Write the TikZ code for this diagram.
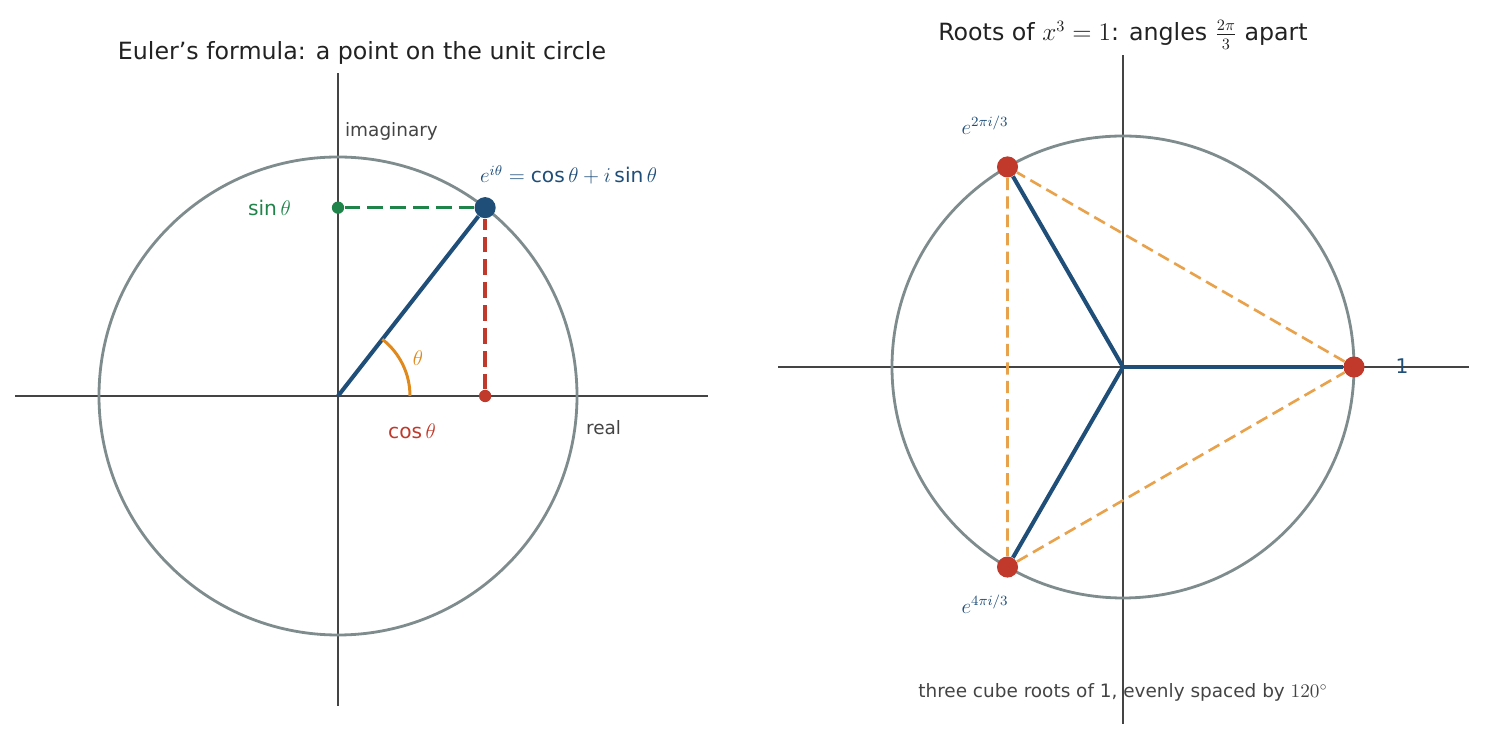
\documentclass[tikz,border=0pt]{standalone}
\usepackage{fontspec}
\setmainfont{DejaVu Sans}
\usetikzlibrary{positioning,calc}
\definecolor{eulerblue}{HTML}{1F4E79}
\definecolor{circlegray}{HTML}{7F8C8D}
\definecolor{sinegreen}{HTML}{1E8449}
\definecolor{cosred}{HTML}{C0392B}
\definecolor{angleorange}{HTML}{E08A1E}
\definecolor{triorange}{HTML}{E8A24C}
\definecolor{axisgray}{HTML}{444444}
\definecolor{textgray}{HTML}{222222}
\tikzset{
  axis/.style={axisgray, line width=0.85pt},
  unit/.style={circlegray, line width=1.6pt},
  radius/.style={eulerblue, line width=2.3pt},
  bigdot/.style={circle, inner sep=0pt, minimum size=12pt},
  smalldot/.style={circle, inner sep=0pt, minimum size=7pt},
  lbl/.style={font=\fontsize{11.5}{13}\selectfont, inner sep=1pt},
  axlbl/.style={font=\fontsize{10.5}{12}\selectfont, text=axisgray, inner sep=1pt},
  ttl/.style={font=\fontsize{13.5}{15}\selectfont, text=textgray}
}
\begin{document}
\begin{tikzpicture}[x=0.02cm, y=0.02cm]
\useasboundingbox (0,0) rectangle (1485,740);
% left panel: Euler's formula
\coordinate (O1) at (338,344);
\draw[axis] (15,344) -- (708,344);
\draw[axis] (338,34) -- (338,667);
\draw[unit] (O1) circle (239);
\node[bigdot, fill=eulerblue] (P) at ($(O1)+(52:239)$) {};
\node[smalldot, fill=sinegreen] (S) at (O1 |- P) {};
\node[smalldot, fill=cosred] (C) at (P |- O1) {};
\draw[radius] (O1) -- (P);
\draw[sinegreen, dashed, dash pattern=on 9pt off 4pt, line width=2pt] (S) -- (P);
\draw[cosred, dashed, dash pattern=on 9pt off 4pt, line width=2pt] (C) -- (P);
\draw[angleorange, line width=1.7pt] ($(O1)+(72,0)$) arc (0:52:72);
\node[lbl, text=angleorange, font=\fontsize{13}{15}\selectfont] (th) at (418,382) {$\theta$};
\node[lbl, text=sinegreen, left=22pt of S] (sl) {$\sin\theta$};
\node[lbl, text=cosred] (cl) at (412,309) {$\cos\theta$};
\node[lbl, text=eulerblue, anchor=west] (fl) at (478,565) {$e^{i\theta}=\cos\theta+i\sin\theta$};
\node[axlbl, anchor=west] (im) at (343,609) {imaginary};
\node[axlbl, anchor=west] (re) at (584,312) {real};
\node[ttl] (t1) at (362,687) {Euler's formula: a point on the unit circle};
% right panel: cube roots of unity
\coordinate (O2) at (1123,373);
\draw[axis] (778,373) -- (1469,373);
\draw[axis] (1123,16) -- (1123,685);
\draw[unit] (O2) circle (231);
\node[bigdot, fill=cosred] (r0) at ($(O2)+(0:231)$) {};
\node[bigdot, fill=cosred] (r1) at ($(O2)+(120:231)$) {};
\node[bigdot, fill=cosred] (r2) at ($(O2)+(240:231)$) {};
\draw[triorange, dashed, dash pattern=on 7pt off 3.5pt, line width=1.5pt] (r0) -- (r1) -- (r2) -- (r0);
\foreach \r in {r0,r1,r2}
  \draw[radius] (O2) -- (\r);
\node[lbl, text=eulerblue] (l0) at (1402,374) {1};
\node[lbl, text=eulerblue] (l1) at (985,615) {$e^{2\pi i/3}$};
\node[lbl, text=eulerblue] (l2) at (985,136) {$e^{4\pi i/3}$};
\node[ttl] (t2) at (1123,705) {Roots of $x^3=1$: angles $\frac{2\pi}{3}$ apart};
\node[axlbl] (ft) at (1123,48) {three cube roots of 1, evenly spaced by $120^\circ$};
\end{tikzpicture}
\end{document}
